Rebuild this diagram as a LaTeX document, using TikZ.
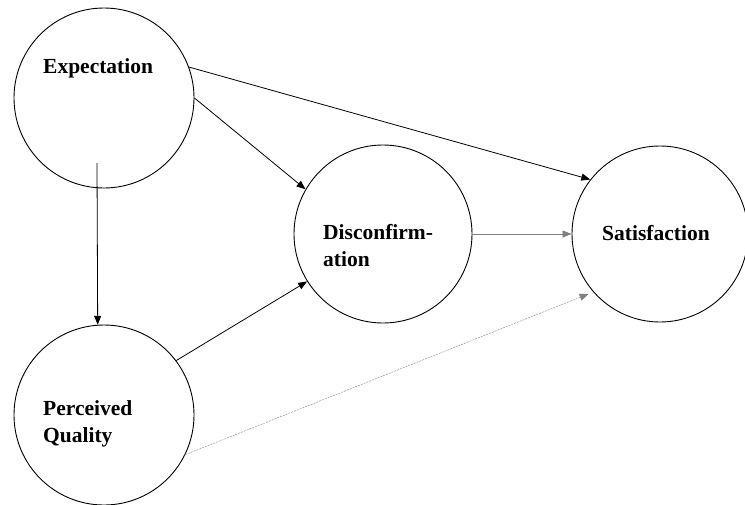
\documentclass[tikz,border=0pt]{standalone}
\usepackage{fontspec}
\setmainfont{Liberation Serif}
\usetikzlibrary{arrows.meta}

\begin{document}
\begin{tikzpicture}[x=1pt,y=-1pt,
        construct/.style={draw,circle,line width=0.9pt,minimum size=180pt,inner sep=0pt},
        lbl/.style={anchor=west,inner sep=0pt,align=left,font=\fontsize{21.5}{27}\selectfont\bfseries},
        >={Triangle[length=9pt,width=7pt]}]
        \useasboundingbox (0,0) rectangle (745,504);
        \node[construct] (exp) at (104,98) {};
        \node[construct] (pq) at (104,415) {};
        \node[construct,minimum size=178pt] (dis) at (383,234) {};
        \node[construct,minimum size=176pt] (sat) at (660,234) {};
        \node[lbl] (exptxt) at (43,68) {Expectation};
        \node[lbl] (pqtxt) at (43,424) {Perceived\\Quality};
        \node[lbl] (distxt) at (323,246) {Disconfirm-\\ation};
        \node[lbl] (sattxt) at (602,233) {Satisfaction};
        \coordinate (expfoot) at (97,163);
        \draw[thick,->] (exp.20) -- (sat.142);
        \draw[thick,->] (exp.0) -- (dis.150);
        \draw[thick,->] (expfoot) -- (pq.94);
        \draw[thick,->] (pq.37) -- (dis.212);
        \draw[thick,gray,->] (dis.east) -- (sat.west);
        \draw[gray,dash pattern=on 2pt off 1pt,->,shorten >=5pt] (pq.-26) -- (sat.221);
    \end{tikzpicture}
\end{document}
